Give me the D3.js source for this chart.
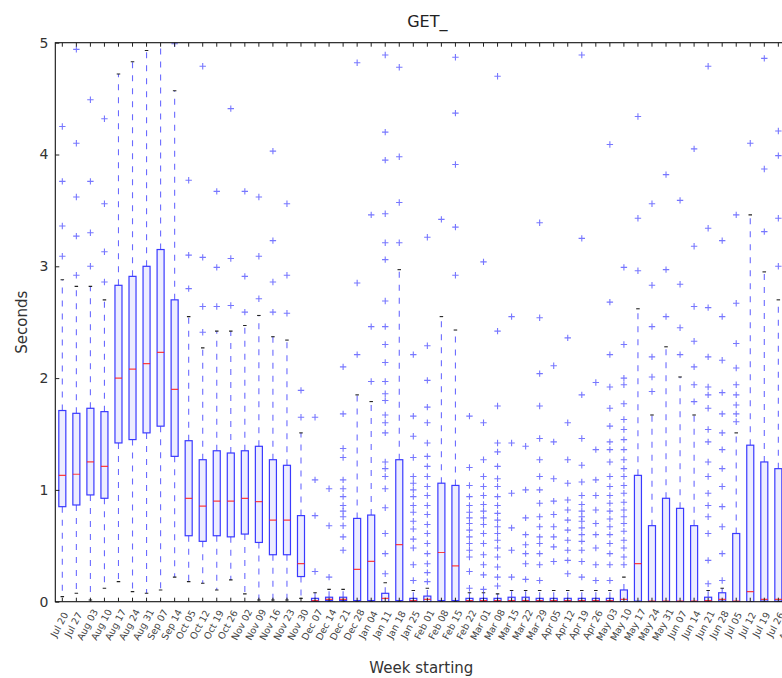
<!DOCTYPE html>
<html>
<head>
<meta charset="utf-8">
<script src="https://cdn.jsdelivr.net/npm/d3@7"></script>
<style>
  html, body { margin: 0; padding: 0; background: #fff; }
  svg { display: block; font-family: "DejaVu Sans", sans-serif; }
</style>
</head>
<body>
<svg id="chart" width="782" height="678"></svg>
<script>
// Weekly response times for GET_ requests, one box per week.
const weeks = [
  "Jul 20","Jul 27","Aug 03","Aug 10","Aug 17","Aug 24","Aug 31","Sep 07","Sep 14",
  "Oct 05","Oct 12","Oct 19","Oct 26","Nov 02","Nov 09","Nov 16","Nov 23","Nov 30",
  "Dec 07","Dec 14","Dec 21","Dec 28","Jan 04","Jan 11","Jan 18","Jan 25","Feb 01",
  "Feb 08","Feb 15","Feb 22","Mar 01","Mar 08","Mar 15","Mar 22","Mar 29","Apr 05",
  "Apr 12","Apr 19","Apr 26","May 03","May 10","May 17","May 24","May 31","Jun 07",
  "Jun 14","Jun 21","Jun 28","Jul 05","Jul 12","Jul 19","Jul 26","Aug 02"
];

const whiskerLow = [
  0.045,0.075,0.015,0.12,0.18,0.09,0.075,0.105,0.22,
  0.18,0.165,0.105,0.195,0.07,0.015,0.015,0.015,0.03,
  0,0,0,0,0,0,0,0,0,
  0,0,0,0,0,0,0,0,0,
  0,0,0,0,0,0,0,0,0,
  0,0,0,0,0,0,0,0
];
const q1 = [
  0.85,0.865,0.955,0.925,1.42,1.45,1.51,1.57,1.30,
  0.59,0.54,0.59,0.58,0.605,0.53,0.42,0.42,0.225,
  0.005,0.01,0.01,0.01,0.01,0,0.01,0.005,0,
  0.01,0.01,0.005,0.005,0.005,0.005,0.005,0.005,0.005,
  0.005,0.005,0.005,0.005,0,0.005,0,0,0,
  0,0.005,0.005,0,0,0.005,0.005,0.005
];
const median = [
  1.13,1.14,1.25,1.21,2.00,2.08,2.13,2.23,1.90,
  0.925,0.855,0.90,0.90,0.925,0.895,0.73,0.73,0.34,
  0.01,0.02,0.02,0.29,0.36,0.03,0.51,0.01,0.02,
  0.44,0.32,0.01,0.01,0.01,0.01,0.01,0.01,0.01,
  0.01,0.01,0.01,0.01,0.02,0.34,0.005,0.005,0.005,
  0.005,0.01,0.02,0.005,0.09,0.02,0.02,0.03
];
const q3 = [
  1.71,1.685,1.73,1.70,2.83,2.91,3.00,3.15,2.70,
  1.44,1.27,1.35,1.33,1.35,1.39,1.27,1.22,0.77,
  0.03,0.04,0.04,0.745,0.775,0.075,1.27,0.03,0.05,
  1.06,1.04,0.03,0.03,0.03,0.04,0.04,0.03,0.03,
  0.03,0.03,0.03,0.03,0.105,1.13,0.68,0.925,0.835,
  0.68,0.04,0.08,0.61,1.40,1.25,1.19,1.10
];
const whiskerHigh = [
  2.88,2.82,2.82,2.70,4.72,4.83,4.93,5.30,4.57,
  2.55,2.27,2.42,2.42,2.47,2.56,2.37,2.34,1.51,
  0.08,0.11,0.11,1.85,1.79,0.17,2.97,0.10,0.12,
  2.55,2.43,0.08,0.08,0.07,0.10,0.10,0.10,0.10,
  0.10,0.10,0.10,0.10,0.22,2.62,1.67,2.28,2.01,
  1.67,0.10,0.12,1.51,3.46,2.95,2.70,2.50
];
const outliers = [
  [3.09,3.36,3.76,4.25],
  [2.92,3.27,3.62,4.10,4.94],
  [3.00,3.30,3.76,4.49],
  [2.86,3.13,3.56,4.32],
  [],
  [],
  [],
  [],
  [4.99],
  [2.80,3.10,3.77],
  [2.41,2.64,3.08,4.79],
  [2.64,2.99,3.67],
  [2.65,3.07,4.41],
  [2.59,2.91,3.67],
  [2.71,3.09,3.62],
  [2.59,2.86,3.23,4.03],
  [2.58,2.92,3.56],
  [1.65,1.89],
  [0.27,0.77,1.09,1.65],
  [0.22,0.68,1.01],
  [0.46,0.58,0.68,0.76,0.81,0.86,0.94,1.01,1.09,1.29,1.37,1.68,2.10],
  [2.21,2.85,4.82],
  [1.97,2.46,3.46],
  [0.25,0.43,0.61,0.84,1.01,1.12,1.19,1.25,1.51,1.60,1.67,1.80,1.86,1.97,2.14,2.30,2.46,2.69,3.06,3.21,3.47,3.95,4.20,4.89],
  [3.21,3.57,3.98,4.78],
  [0.19,0.33,0.48,0.56,0.65,0.72,0.80,0.86,0.94,1.00,1.06,1.12,1.29,1.48,1.66,2.21],
  [0.18,0.26,0.34,0.43,0.52,0.61,0.69,0.78,0.86,0.95,1.03,1.12,1.21,1.30,1.42,1.60,1.74,1.98,2.29,3.26],
  [3.42],
  [2.92,3.35,3.91,4.37,4.87],
  [0.12,0.27,0.40,0.46,0.52,0.58,0.64,0.70,0.75,0.80,0.86,0.94,1.04,1.20,1.66],
  [0.11,0.24,0.33,0.42,0.52,0.61,0.69,0.75,0.81,0.87,0.95,1.03,1.12,1.27,1.60,3.04],
  [0.14,0.22,0.31,0.40,0.48,0.55,0.61,0.67,0.73,0.79,0.86,0.94,1.03,1.10,1.21,1.34,1.42,1.75,2.42,4.70],
  [0.22,0.46,0.66,0.97,1.42,2.55],
  [0.20,0.34,0.43,0.51,0.60,0.75,1.00,1.39],
  [0.19,0.33,0.43,0.52,0.58,0.67,0.76,0.88,1.00,1.12,1.27,1.46,1.75,2.04,2.54,3.39],
  [0.36,0.49,0.58,0.67,0.78,0.90,1.10,1.43,2.11],
  [0.25,0.37,0.46,0.55,0.64,0.73,0.82,0.91,1.06,1.27,1.60,2.36],
  [0.22,0.36,0.46,0.54,0.60,0.66,0.72,0.76,0.81,0.87,0.95,1.07,1.22,1.46,1.85,3.25,4.89],
  [0.19,0.33,0.48,0.60,0.70,0.82,0.95,1.09,1.36,1.96],
  [0.19,0.33,0.43,0.52,0.60,0.67,0.74,0.81,0.88,0.95,1.03,1.12,1.25,1.36,1.43,1.57,1.73,1.92,2.21,2.68,4.09],
  [0.33,0.40,0.48,0.55,0.63,0.70,0.76,0.82,0.89,0.97,1.04,1.12,1.19,1.27,1.36,1.45,1.54,1.63,1.77,1.94,2.00,2.30,2.99],
  [2.96,3.43,4.34],
  [1.88,2.01,2.19,2.46,2.83,3.56],
  [2.55,2.97,3.82],
  [2.21,2.45,2.84,3.59],
  [1.79,1.94,2.10,2.33,2.64,3.18,4.05],
  [0.16,0.37,0.61,0.76,0.86,0.97,1.12,1.25,1.43,1.54,1.73,1.85,1.92,2.19,2.63,3.34,4.79],
  [0.19,0.43,0.67,0.85,1.03,1.19,1.36,1.51,1.68,1.87,2.16,2.55,3.23],
  [1.61,1.68,1.76,1.85,1.94,2.09,2.31,2.67,3.46],
  [4.10],
  [3.31,3.87,4.86],
  [3.00,3.43,3.99,4.21],
  [2.90,3.50]
];
const yTicks = [0, 1, 2, 3, 4, 5];

// Axes frame
const plot = { left: 55.3, right: 799.4, top: 42.7, bottom: 601.7 };
const svg = d3.select("#chart");

const x = d3.scaleBand().domain(weeks).range([plot.left, plot.right]).padding(0);
const y = d3.scaleLinear().domain([0, 5]).range([plot.bottom, plot.top]);
const bw = x.bandwidth();
const cx = w => x(w) + bw / 2;

const boxes = weeks.map((w, i) => ({
  week: w, lo: whiskerLow[i], q1: q1[i], med: median[i], q3: q3[i],
  hi: whiskerHigh[i], fliers: outliers[i]
}));

svg.append("defs").append("clipPath").attr("id", "plotClip")
  .append("rect")
  .attr("x", plot.left).attr("y", plot.top)
  .attr("width", plot.right - plot.left).attr("height", plot.bottom - plot.top);

const g = svg.append("g").attr("clip-path", "url(#plotClip)");

const blue = "#3a3aff";
const boxW = bw * 0.5;
const capW = bw * 0.25;

const box = g.selectAll("g.box").data(boxes).enter().append("g").attr("class", "box");

// dashed whiskers
box.append("line")
  .attr("x1", d => cx(d.week)).attr("x2", d => cx(d.week))
  .attr("y1", d => y(d.q3)).attr("y2", d => y(d.hi))
  .attr("stroke", blue).attr("stroke-opacity", 0.75).attr("stroke-width", 1.1)
  .attr("stroke-dasharray", "6,7");
box.append("line")
  .attr("x1", d => cx(d.week)).attr("x2", d => cx(d.week))
  .attr("y1", d => y(d.q1)).attr("y2", d => y(d.lo))
  .attr("stroke", blue).attr("stroke-opacity", 0.75).attr("stroke-width", 1.1)
  .attr("stroke-dasharray", "6,7");

// whisker caps
["lo", "hi"].forEach(k => {
  box.append("line")
    .attr("x1", d => cx(d.week) - capW / 2).attr("x2", d => cx(d.week) + capW / 2)
    .attr("y1", d => y(d[k])).attr("y2", d => y(d[k]))
    .attr("stroke", "#222").attr("stroke-width", 1.1);
});

// interquartile boxes
box.append("rect")
  .attr("x", d => cx(d.week) - boxW / 2)
  .attr("y", d => y(d.q3))
  .attr("width", boxW)
  .attr("height", d => Math.max(y(d.q1) - y(d.q3), 0.5))
  .attr("fill", "#6a6aff").attr("fill-opacity", 0.12)
  .attr("stroke", blue).attr("stroke-width", 1.2);

// medians
box.append("line")
  .attr("x1", d => cx(d.week) - boxW / 2).attr("x2", d => cx(d.week) + boxW / 2)
  .attr("y1", d => y(d.med)).attr("y2", d => y(d.med))
  .attr("stroke", "#ff2020").attr("stroke-opacity", 0.85).attr("stroke-width", 1.2);

// fliers drawn as "+" markers
const flierData = boxes.flatMap(d => d.fliers.map(v => ({ week: d.week, v })));
const ms = 3.2;
g.selectAll("path.flier").data(flierData).enter().append("path")
  .attr("class", "flier")
  .attr("d", d => {
    const px = cx(d.week), py = y(d.v);
    return `M${px - ms},${py}H${px + ms}M${px},${py - ms}V${py + ms}`;
  })
  .attr("stroke", "#4a4aff").attr("stroke-opacity", 0.75).attr("stroke-width", 1.1)
  .attr("fill", "none");

// frame
svg.append("rect")
  .attr("x", plot.left).attr("y", plot.top)
  .attr("width", plot.right - plot.left).attr("height", plot.bottom - plot.top)
  .attr("fill", "none").attr("stroke", "#111").attr("stroke-width", 1.1);

// x axis: ticks inside at bottom and top, rotated week labels
const xAxis = svg.append("g")
  .attr("transform", `translate(0,${plot.bottom})`)
  .call(d3.axisBottom(x).tickSizeInner(-4).tickSizeOuter(0));
xAxis.select(".domain").remove();
xAxis.selectAll(".tick line").attr("stroke", "#222");
xAxis.selectAll(".tick text")
  .attr("x", 0).attr("y", 0).attr("dy", "0.35em")
  .attr("text-anchor", "middle")
  .attr("transform", "translate(-3,23) rotate(-62)")
  .attr("font-size", "9.5px").attr("font-family", "DejaVu Sans, sans-serif")
  .attr("fill", "#444");

const xTop = svg.append("g")
  .attr("transform", `translate(0,${plot.top})`)
  .call(d3.axisTop(x).tickSizeInner(-4).tickSizeOuter(0).tickFormat(""));
xTop.select(".domain").remove();
xTop.selectAll(".tick line").attr("stroke", "#222");

// y axis: ticks inside on both sides
const yAxis = svg.append("g")
  .attr("transform", `translate(${plot.left},0)`)
  .call(d3.axisLeft(y).tickValues(yTicks).tickFormat(d3.format("d"))
    .tickSizeInner(-4).tickSizeOuter(0).tickPadding(7));
yAxis.select(".domain").remove();
yAxis.selectAll(".tick line").attr("stroke", "#222");
yAxis.selectAll(".tick text")
  .attr("font-size", "14px").attr("font-family", "DejaVu Sans, sans-serif").attr("fill", "#333");

const yRight = svg.append("g")
  .attr("transform", `translate(${plot.right},0)`)
  .call(d3.axisRight(y).tickValues(yTicks).tickSizeInner(-4).tickSizeOuter(0).tickFormat(""));
yRight.select(".domain").remove();

// titles
const midX = (plot.left + plot.right) / 2;
svg.append("text")
  .attr("x", midX).attr("y", 27)
  .attr("text-anchor", "middle")
  .attr("font-size", "16px").attr("fill", "#222")
  .text("GET_");

svg.append("text")
  .attr("x", midX - 6).attr("y", 673)
  .attr("text-anchor", "middle")
  .attr("font-size", "15px").attr("fill", "#333")
  .text("Week starting");

svg.append("text")
  .attr("transform", `translate(27,${(plot.top + plot.bottom) / 2}) rotate(-90)`)
  .attr("text-anchor", "middle")
  .attr("font-size", "15px").attr("fill", "#333")
  .text("Seconds");
</script>
</body>
</html>
